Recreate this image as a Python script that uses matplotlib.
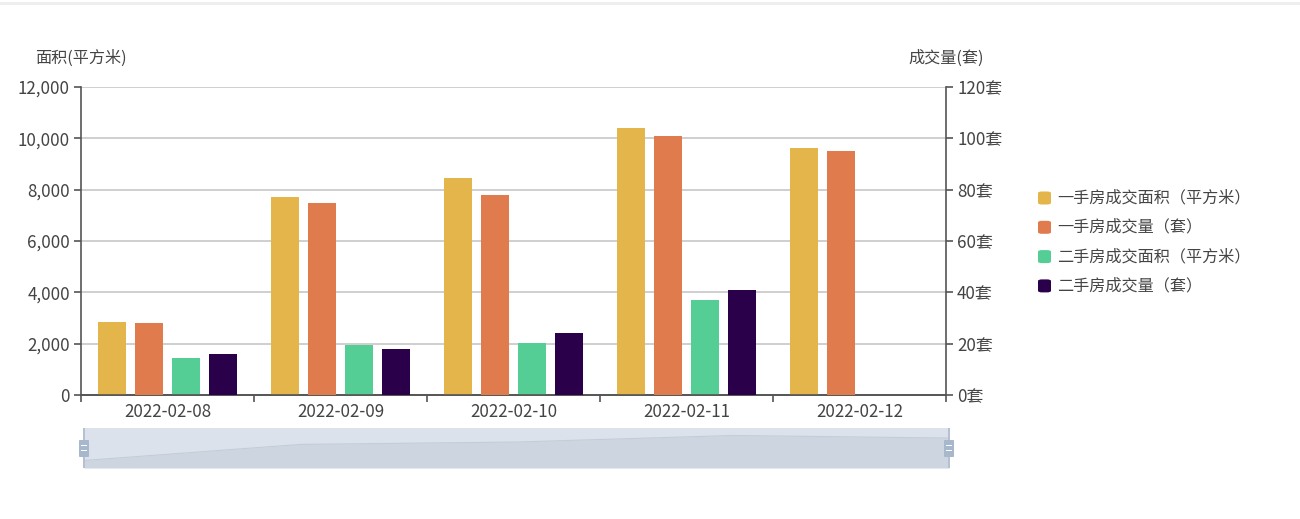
import matplotlib
matplotlib.use("Agg")
import matplotlib.pyplot as plt
from matplotlib.patches import FancyBboxPatch, Rectangle
from matplotlib.ticker import FuncFormatter, FixedLocator, NullFormatter
import numpy as np

plt.rcParams['font.family'] = ['Noto Sans CJK SC', 'DejaVu Sans']

dates = ["2022-02-08", "2022-02-09", "2022-02-10", "2022-02-11", "2022-02-12"]
new_area = [2850, 7710, 8440, 10410, 9640]      # 一手房成交面积（平方米）
new_count = [28, 75, 78, 101, 95]               # 一手房成交量（套）
old_area = [1430, 1950, 2030, 3690, 0]          # 二手房成交面积（平方米）
old_count = [16, 18, 24, 41, 0]                 # 二手房成交量（套）

names = ["一手房成交面积（平方米）", "一手房成交量（套）", "二手房成交面积（平方米）", "二手房成交量（套）"]
colors = ["#e4b54a", "#e07b4e", "#55ce95", "#2a004a"]

W, H = 1300, 519
fig = plt.figure(figsize=(W / 100, H / 100), dpi=100)
fig.patch.set_facecolor("white")

# top thin band
fig.add_artist(Rectangle((0, 1 - 5 / H), 1, 3 / H, transform=fig.transFigure,
                         facecolor="#eeeeee", edgecolor="none"))

L, R, T, B = 81, 946, 87, 395
ax = fig.add_axes([L / W, 1 - B / H, (R - L) / W, (B - T) / H])
ax2 = ax.twinx()

x = np.arange(len(dates))
bw = 28 / 173
offs = [-55.5 / 173, -18.5 / 173, 18.5 / 173, 55.5 / 173]
ax.bar(x + offs[0], new_area, width=bw, color=colors[0], zorder=3)
ax2.bar(x + offs[1], new_count, width=bw, color=colors[1], zorder=3)
ax.bar(x + offs[2], old_area, width=bw, color=colors[2], zorder=3)
ax2.bar(x + offs[3], old_count, width=bw, color=colors[3], zorder=3)

FS_NUM = 12.2
FS_CJK = 11.6
TXT = "#444444"

ax.set_xlim(-0.5, len(dates) - 0.5)
ax.set_ylim(0, 12000)
ax2.set_ylim(0, 120)
ax.set_yticks(np.arange(0, 12001, 2000))
ax2.set_yticks(np.arange(0, 121, 20))
ax.yaxis.set_major_formatter(FuncFormatter(lambda v, p: f"{int(v):,}"))
ax2.yaxis.set_major_formatter(FuncFormatter(lambda v, p: f"{int(v)}套"))
ax.grid(axis="y", color="#cccccc", linewidth=1.3, zorder=0)
ax.set_axisbelow(True)

ax.xaxis.set_major_locator(FixedLocator(np.arange(-0.5, len(dates), 1.0)))
ax.xaxis.set_major_formatter(NullFormatter())
ax.xaxis.set_minor_locator(FixedLocator(x))
ax.set_xticklabels(dates, minor=True)
ax.tick_params(axis="x", which="major", length=5, width=1.2, color="#555555", direction="out")
ax.tick_params(axis="x", which="minor", length=0, pad=6, labelsize=FS_NUM, labelcolor=TXT)
ax.tick_params(axis="y", length=5, width=1.2, color="#555555", labelsize=FS_NUM, labelcolor=TXT, pad=3)
ax2.tick_params(axis="y", length=5, width=1.2, color="#555555", labelsize=FS_NUM, labelcolor=TXT, pad=3)

for a in (ax, ax2):
    a.spines["top"].set_visible(False)
    for s in ("left", "right", "bottom"):
        a.spines[s].set_color("#555555")
        a.spines[s].set_linewidth(1.2)
ax.spines["right"].set_visible(False)
ax2.spines["left"].set_visible(False)

fig.text(81 / W, 1 - 58 / H, "面积(平方米)", ha="center", va="center", fontsize=FS_CJK, color=TXT)
fig.text(946 / W, 1 - 58 / H, "成交量(套)", ha="center", va="center", fontsize=FS_CJK, color=TXT)

# legend
ly0 = 198
for i, (n, c) in enumerate(zip(names, colors)):
    y = ly0 + i * 29.3
    fig.add_artist(FancyBboxPatch((1038 / W, 1 - (y + 6.5) / H), 13 / W, 13 / H,
                                  boxstyle="round,pad=0,rounding_size=0.003",
                                  transform=fig.transFigure, facecolor=c, edgecolor="none"))
    fig.text(1057 / W, 1 - y / H, n, ha="left", va="center", fontsize=FS_CJK, color=TXT)

# data zoom slider
SL, SR, ST, SB = 84, 949, 428, 468
axs = fig.add_axes([SL / W, 1 - SB / H, (SR - SL) / W, (SB - ST) / H])
axs.set_facecolor("#dce2eb")
lo, hi = min(new_area), max(new_area)
pad = (hi - lo) * 0.3
axs.set_ylim(lo - pad, hi + pad)
axs.set_xlim(0, len(dates) - 1)
axs.fill_between(x, lo - pad, new_area, color="#cdd5e0", linewidth=0)
axs.plot(x, new_area, color="#c3ccd8", linewidth=0.8)
axs.set_xticks([])
axs.set_yticks([])
for s in axs.spines.values():
    s.set_visible(False)
for xe in (SL, SR):
    fig.add_artist(Rectangle(((xe - 1) / W, 1 - SB / H), 2 / W, (SB - ST) / H,
                             transform=fig.transFigure, facecolor="#b5c0d0", edgecolor="none"))
    fig.add_artist(FancyBboxPatch(((xe - 5) / W, 1 - 457 / H), 10 / W, 17 / H,
                                  boxstyle="round,pad=0,rounding_size=0.001",
                                  transform=fig.transFigure, facecolor="#a7b7cc", edgecolor="none"))
    for yy in (446, 451):
        fig.add_artist(Rectangle(((xe - 3) / W, 1 - yy / H), 6 / W, 1.3 / H,
                                 transform=fig.transFigure, facecolor="white", edgecolor="none"))

fig.savefig("out.png", dpi=100, facecolor="white")
